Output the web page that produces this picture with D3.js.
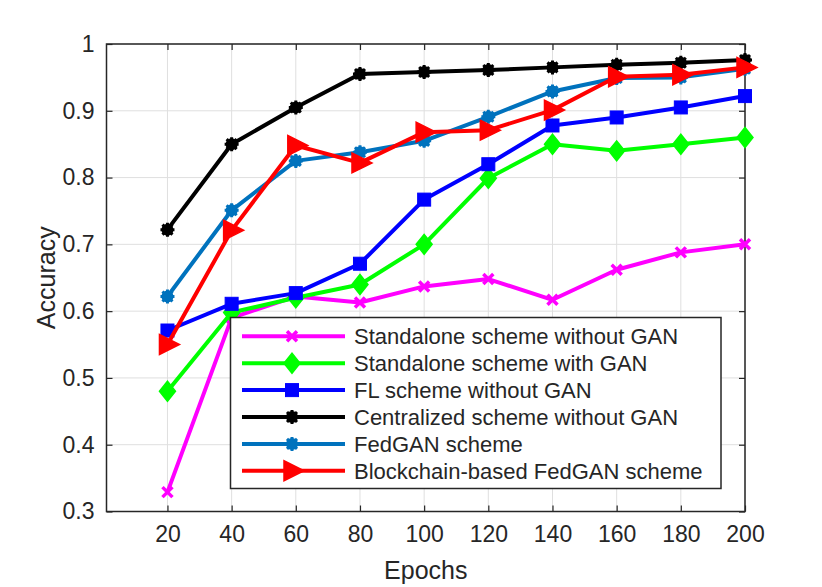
<!DOCTYPE html>
<html>
<head>
<meta charset="utf-8">
<script src="https://cdn.jsdelivr.net/npm/d3@7"></script>
<style>
  body { margin: 0; background: #fff; }
  text { font-family: "Liberation Sans", Arial, Helvetica, sans-serif; fill: #262626; }
</style>
</head>
<body>
<svg id="chart" width="822" height="587"></svg>
<script>
// data
var epochs = [20, 40, 60, 80, 100, 120, 140, 160, 180, 200];
var standaloneNoGan = [0.329, 0.59, 0.622, 0.613, 0.637, 0.648, 0.617, 0.662, 0.688, 0.70];
var standaloneGan   = [0.48, 0.598, 0.62, 0.64, 0.70, 0.799, 0.85, 0.84, 0.85, 0.86];
var flNoGan         = [0.571, 0.611, 0.627, 0.671, 0.767, 0.82, 0.878, 0.89, 0.905, 0.922];
var centralNoGan    = [0.722, 0.85, 0.905, 0.955, 0.958, 0.961, 0.965, 0.969, 0.972, 0.976];
var fedGan          = [0.622, 0.751, 0.825, 0.838, 0.855, 0.891, 0.929, 0.949, 0.950, 0.963];
var chainFedGan     = [0.55, 0.721, 0.848, 0.822, 0.868, 0.871, 0.901, 0.951, 0.954, 0.965];
var seriesNames = ["Standalone scheme without GAN", "Standalone scheme with GAN",
  "FL scheme without GAN", "Centralized scheme without GAN", "FedGAN scheme",
  "Blockchain-based FedGAN scheme"];
var xTicks = [20, 40, 60, 80, 100, 120, 140, 160, 180, 200];
var yTicks = [0.3, 0.4, 0.5, 0.6, 0.7, 0.8, 0.9, 1];

var series = [
  {name: seriesNames[0], values: standaloneNoGan, color: "#ff00ff", marker: "x"},
  {name: seriesNames[1], values: standaloneGan, color: "#00ff00", marker: "diamond"},
  {name: seriesNames[2], values: flNoGan, color: "#0000ff", marker: "square"},
  {name: seriesNames[3], values: centralNoGan, color: "#000000", marker: "star"},
  {name: seriesNames[4], values: fedGan, color: "#0072bd", marker: "star"},
  {name: seriesNames[5], values: chainFedGan, color: "#ff0000", marker: "tri"}
];

var plotL = 106.5, plotR = 745, plotT = 44, plotB = 511.5;
var axisColor = "#262626";

var svg = d3.select("#chart");

var x = d3.scaleLinear().domain([1, 200]).range([plotL, plotR]);
var y = d3.scaleLinear().domain([0.3, 1]).range([plotB, plotT]);

//grid lines
var grid = svg.append("g");
grid.selectAll(".vg").data(xTicks).enter().append("line")
  .attr("x1", d => x(d)).attr("x2", d => x(d))
  .attr("y1", plotT).attr("y2", plotB)
  .attr("stroke", "#dfdfdf").attr("stroke-width", 1);
grid.selectAll(".hg").data(yTicks).enter().append("line")
  .attr("y1", d => y(d)).attr("y2", d => y(d))
  .attr("x1", plotL).attr("x2", plotR)
  .attr("stroke", "#dfdfdf").attr("stroke-width", 1);

//axes, ticks point inward on all four sides
function styleAxis(g) {
  g.select(".domain").remove();
  g.selectAll(".tick line").attr("stroke", axisColor).attr("stroke-width", 1.2);
  g.selectAll(".tick text").attr("fill", axisColor).style("font-size", "23px");
}
svg.append("g").attr("transform", "translate(0," + plotB + ")")
  .call(d3.axisBottom(x).tickValues(xTicks).tickSizeInner(-6).tickSizeOuter(0).tickPadding(14))
  .call(styleAxis);
svg.append("g").attr("transform", "translate(0," + plotT + ")")
  .call(d3.axisTop(x).tickValues(xTicks).tickSizeInner(-6).tickSizeOuter(0).tickFormat(""))
  .call(styleAxis);
svg.append("g").attr("transform", "translate(" + plotL + ",0)")
  .call(d3.axisLeft(y).tickValues(yTicks).tickSizeInner(-6).tickSizeOuter(0).tickPadding(12)
    .tickFormat(d => d === 1 ? "1" : d3.format(".1f")(d)))
  .call(styleAxis);
svg.append("g").attr("transform", "translate(" + plotR + ",0)")
  .call(d3.axisRight(y).tickValues(yTicks).tickSizeInner(-6).tickSizeOuter(0).tickFormat(""))
  .call(styleAxis);

svg.append("rect")
  .attr("x", plotL).attr("y", plotT)
  .attr("width", plotR - plotL).attr("height", plotB - plotT)
  .attr("fill", "none").attr("stroke", axisColor).attr("stroke-width", 1.5);

//axis labels
svg.append("text").attr("x", (plotL + plotR) / 2).attr("y", 579)
  .attr("text-anchor", "middle").style("font-size", "25px").text("Epochs");
svg.append("text").attr("transform", "translate(55," + (plotT + plotB) / 2 + ") rotate(-90)")
  .attr("text-anchor", "middle").style("font-size", "25px").text("Accuracy");

//marker drawing
function drawMarker(g, type, color) {
  if (type === "x") {
    g.append("path").attr("d", "M-5,-5L5,5M-5,5L5,-5")
      .attr("stroke", color).attr("stroke-width", 3.5).attr("fill", "none");
  } else if (type === "diamond") {
    g.append("path").attr("d", "M0,-10L8,0L0,10L-8,0Z")
      .attr("fill", color).attr("stroke", color).attr("stroke-width", 1.5);
  } else if (type === "square") {
    g.append("rect").attr("x", -6.5).attr("y", -6.5).attr("width", 13).attr("height", 13)
      .attr("fill", color).attr("stroke", color).attr("stroke-width", 1);
  } else if (type === "star") {
    g.append("circle").attr("r", 6).attr("fill", color);
    g.append("path").attr("d", "M-7,0L7,0M0,-7L0,7M-5,-5L5,5M-5,5L5,-5")
      .attr("stroke", color).attr("stroke-width", 3);
  } else if (type === "tri") {
    g.append("path").attr("d", "M-8,-10L-8,10L12,0Z")
      .attr("fill", color).attr("stroke", color).attr("stroke-width", 1.5);
  }
}

var line = d3.line().x(d => x(d[0])).y(d => y(d[1]));

series.forEach(function(s) {
  var pts = epochs.map((e, i) => [e, s.values[i]]);
  var g = svg.append("g");
  g.append("path").datum(pts).attr("d", line)
    .attr("fill", "none").attr("stroke", s.color).attr("stroke-width", 4)
    .attr("stroke-linejoin", "round");
  pts.forEach(function(p) {
    var m = g.append("g").attr("transform", "translate(" + x(p[0]) + "," + y(p[1]) + ")");
    drawMarker(m, s.marker, s.color);
  });
});

//legend
var leg = svg.append("g");
leg.append("rect").attr("x", 230.5).attr("y", 317.5).attr("width", 490.5).attr("height", 171)
  .attr("fill", "#fff").attr("stroke", axisColor).attr("stroke-width", 1.5);
series.forEach(function(s, i) {
  var cy = 336.3 + i * 26.9;
  leg.append("line").attr("x1", 242).attr("x2", 345).attr("y1", cy).attr("y2", cy)
    .attr("stroke", s.color).attr("stroke-width", 4);
  var m = leg.append("g").attr("transform", "translate(292," + cy + ")");
  drawMarker(m, s.marker, s.color);
  leg.append("text").attr("x", 354).attr("y", cy + 8)
    .style("font-size", "22px").attr("fill", "#000").text(s.name);
});
</script>
</body>
</html>
